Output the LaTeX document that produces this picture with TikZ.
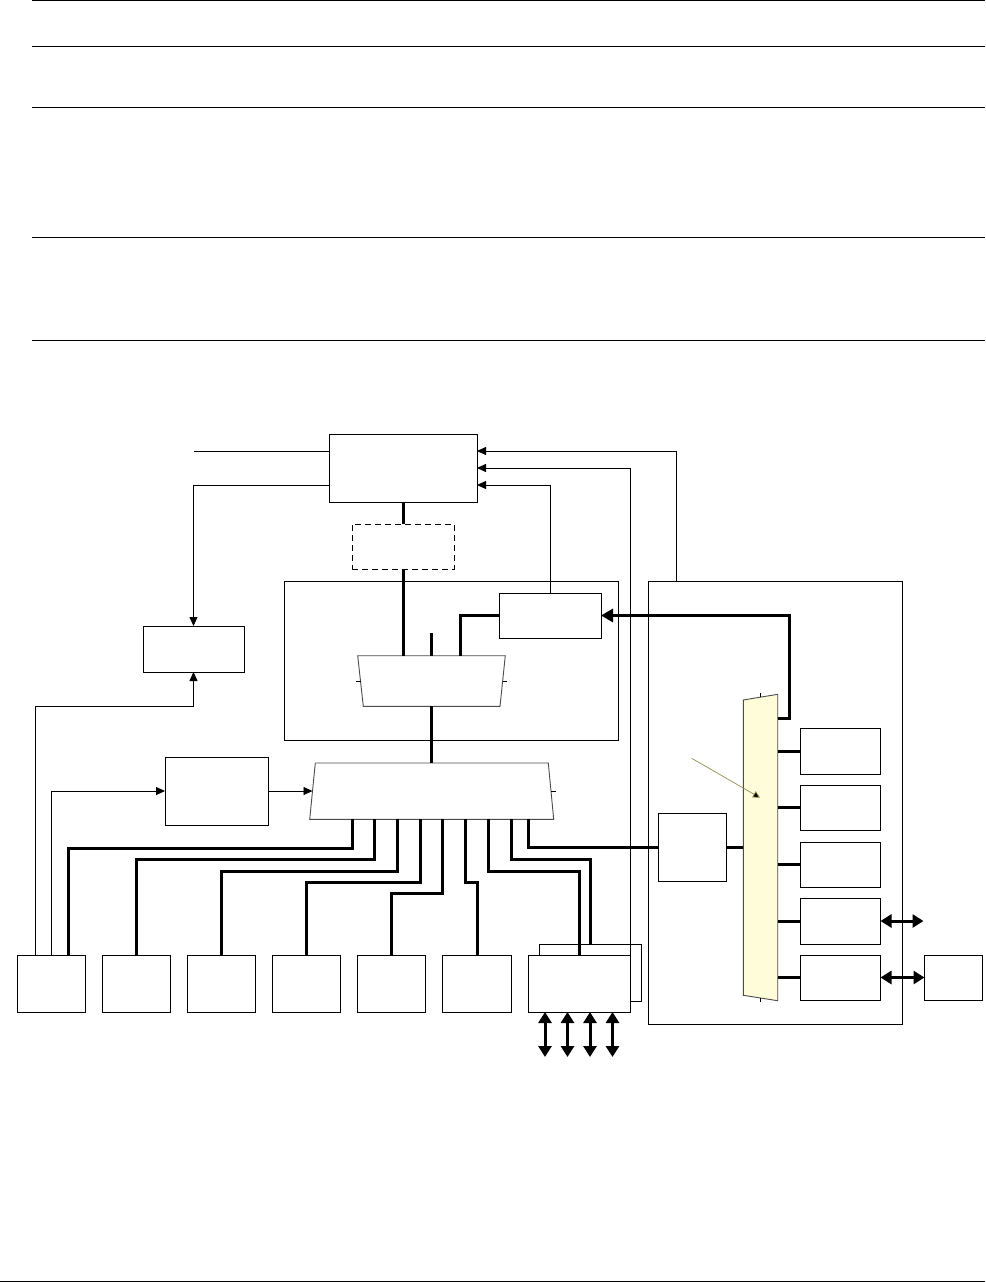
\documentclass[tikz,border=0pt]{standalone}
\usetikzlibrary{arrows.meta}
\definecolor{muxfill}{RGB}{255,252,218}
\definecolor{pointer}{RGB}{150,142,84}

\begin{document}
\begin{tikzpicture}[x=1pt,y=-1pt,line join=miter,
  blk/.style={draw,line width=0.8pt,fill=white,inner sep=0pt,outer sep=0pt,anchor=north west},
  wire/.style={line width=0.8pt},
  bus/.style={line width=3pt},
  arr/.style={wire,-{Triangle[length=9pt,width=8pt]}},
  dbl/.style={line width=3pt,{Triangle[length=11pt,width=13pt]}-{Triangle[length=11pt,width=13pt]}},
  muxline/.style={draw=black!70,line width=0.9pt}]
\useasboundingbox (0,0) rectangle (985,1282);
% header rules
\foreach \y in {0.8,46,107,237,340} \draw[line width=1pt] (32,\y) -- (985,\y);
\draw[line width=1pt] (0,1281) -- (985,1281);

% frames
\node[blk,minimum width=334pt,minimum height=159pt] (cont) at (284.5,581) {};
\node[blk,minimum width=254pt,minimum height=443pt] (rframe) at (648,581) {};

% boxes
\node[blk,minimum width=148pt,minimum height=68pt] (ctrl) at (329,434) {};
\node[blk,dashed,dash pattern=on 6pt off 4pt,minimum width=102pt,minimum height=45pt] (buf) at (352,524) {};
\node[blk,minimum width=102pt,minimum height=45pt] (upd) at (499,593) {};
\node[blk,minimum width=101pt,minimum height=46pt] (side) at (143,626) {};
\node[blk,minimum width=103pt,minimum height=68pt] (pre) at (165,757) {};
\node[blk,minimum width=68pt,minimum height=68pt] (phy) at (658.5,813) {};
\foreach \i/\y/\h in {1/728/46,2/785/45,3/842/45,4/898/46,5/955/45}
  \node[blk,minimum width=80pt,minimum height=\h pt] (rb\i) at (800.5,\y) {};
\node[blk,minimum width=58pt,minimum height=45pt] (ext) at (924.5,955) {};

% bottom row
\node[blk,minimum width=102pt,minimum height=57pt] (b8) at (539,944) {};
\foreach \i/\x/\w in {1/17.5/68,2/102.5/68,3/187.5/68,4/272.5/68,5/357.5/68,6/442.5/69,7/528.5/102}
  \node[blk,minimum width=\w pt,minimum height=57pt] (b\i) at (\x,955) {};

% muxes
\draw[muxline,fill=white] (357.7,655.7) -- (505.3,655.7) -- (500,706.3) -- (363.3,706.3) -- cycle;
\draw[wire] (356,681) -- (360.5,681) (502.5,681) -- (507,681);
\draw[muxline,fill=white] (315.3,763) -- (548.3,763) -- (553.7,819.3) -- (309.7,819.3) -- cycle;
\draw[wire] (551,791.5) -- (556,791.5);
\draw[muxline,fill=muxfill] (743.3,700) -- (777.7,694.3) -- (777.7,1000.7) -- (743.3,995.3) -- cycle;
\draw[wire] (760.5,697) -- (760.5,693) (760.5,998) -- (760.5,1002);
\coordinate (m1in) at (403,655.7);
\coordinate (m1out) at (431,706.3);
\coordinate (bmin) at (431,763);
\coordinate (bmw) at (312.5,791);
\coordinate (rmw) at (743.3,847);
\coordinate (rme) at (777.7,718);

% control lines
\coordinate (inp) at (194,451);
\coordinate (t1) at (477,451);
\coordinate (t2) at (477,468);
\coordinate (t3) at (477,485);
\coordinate (feed) at (676,581);
\coordinate (k1) at (35,706);
\coordinate (k2) at (51,791);
\draw[wire] (inp) -- (inp -| ctrl.west);
\draw[arr] (ctrl.west |- t3) -| (side.north);
\draw[arr] (b1.north -| k1) -- (k1) -| (side.south);
\draw[arr] (b1.north -| k2) -- (k2) -- (pre.west);
\draw[arr] (pre.east) -- (bmw);
\draw[arr] (feed) |- (t1);
\draw[arr] (b7.north east) |- (t2);
\draw[arr] (upd.north) |- (t3);

% data paths
\draw[bus] (ctrl.south) -- (buf.north);
\draw[bus] (buf.south) -- (m1in);
\draw[bus] (431,633) -- (431,655.7);
\draw[bus] (upd.west) -| (460,655.7);
\draw[bus] (m1out) -- (bmin);
\draw[bus,-{Triangle[length=12pt,width=13pt]}] (rme) -- (789,718) |- (upd.east);
\draw[bus] (352,819) -- (352,848) -| ([xshift=50.5pt]b1.north west);
\foreach \tx/\hy/\dst in {374/859/b2,397/871/b3,420/882/b4,442/893/b5,465/882/b6,488.6/871/b7,511.8/859/b8}
  \draw[bus] (\tx,819) -- (\tx,\hy) -| (\dst.north);
\draw[bus] (528,819) |- (phy.west);
\draw[bus] (phy.east) -- (rmw);
\foreach \i in {1,...,5} \draw[bus] (rb\i.west -| rme) -- (rb\i.west);
\draw[dbl] (rb4.east) -- ++(43,0);
\draw[dbl] (rb5.east) -- (ext.west);
\foreach \x in {545,567.5,590,612.5} \draw[dbl] (\x,1012) -- (\x,1057);

% pointer
\draw[pointer,line width=0.7pt,-{Triangle[length=7pt,width=7pt,fill=black]}] (691.7,758.3) -- (760,797.7);
\end{tikzpicture}
\end{document}
